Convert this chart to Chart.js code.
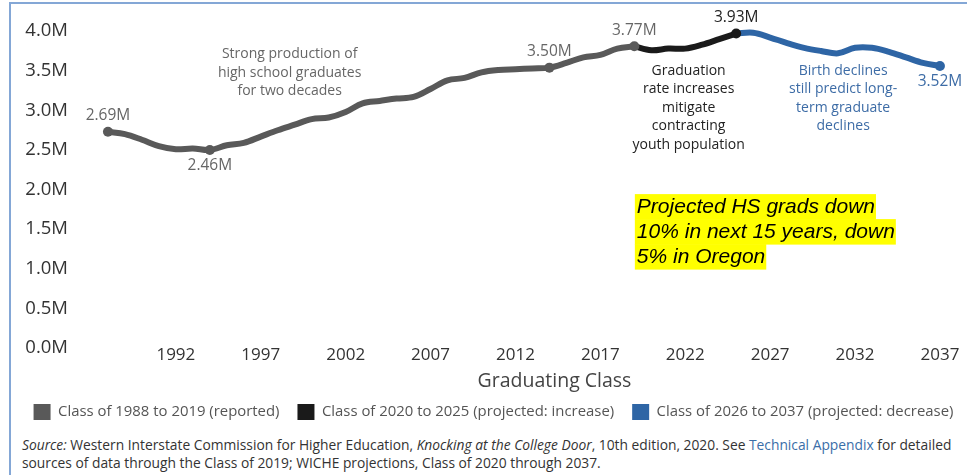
<!DOCTYPE html>
<html>
<head>
<meta charset="utf-8">
<title>Projected high school graduates</title>
<script src="https://cdn.jsdelivr.net/npm/chart.js@4.4.1/dist/chart.umd.min.js"></script>
<style>
  body { margin: 0; background: #fff; font-family: "Open Sans", sans-serif; }
  #wrap { position: relative; width: 967px; height: 475px; overflow: hidden; }
  #frame { position: absolute; left: 9px; top: 2px; width: 1000px; height: 500px; border-left: 2px solid #84a7d6; border-top: 2px solid #84a7d6; pointer-events: none; }
  #chartBox { position: absolute; left: 0; top: 0; width: 967px; height: 430px; }
  #source { position: absolute; left: 22px; top: 436px; width: 945px; font-size: 13.8px; line-height: 18px; color: #333; }
  #source .link { color: #3a6ea8; }
</style>
</head>
<body>
<div id="wrap">
  <div id="frame"></div>
  <div id="chartBox"><canvas id="gradsChart"></canvas></div>
  <div id="source"><i>Source:</i> Western Interstate Commission for Higher Education, <i>Knocking at the College Door</i>, 10th edition, 2020. See <span class="link">Technical Appendix</span> for detailed sources of data through the Class of 2019; WICHE projections, Class of 2020 through 2037.</div>
</div>
<script>
// graduates in millions, by graduating class
const reportedYears = [1988, 1989, 1990, 1991, 1992, 1993, 1994, 1995, 1996, 1997, 1998, 1999, 2000, 2001, 2002, 2003,
  2004, 2005, 2006, 2007, 2008, 2009, 2010, 2011, 2012, 2013, 2014, 2015, 2016, 2017, 2018, 2019];
const reportedGrads = [2.69, 2.66, 2.59, 2.51, 2.47, 2.48, 2.46, 2.52, 2.55, 2.63, 2.71, 2.78, 2.85, 2.87, 2.94, 3.05,
  3.08, 3.11, 3.13, 3.23, 3.34, 3.37, 3.44, 3.47, 3.48, 3.49, 3.50, 3.56, 3.63, 3.66, 3.74, 3.77];

const increaseYears = [2019, 2020, 2021, 2022, 2023, 2024, 2025];
const increaseGrads = [3.77, 3.72, 3.74, 3.74, 3.79, 3.86, 3.93];

const decreaseYears = [2025, 2026, 2027, 2028, 2029, 2030, 2031, 2032, 2033, 2034, 2035, 2036, 2037];
const decreaseGrads = [3.93, 3.94, 3.88, 3.81, 3.75, 3.71, 3.68, 3.75, 3.75, 3.70, 3.63, 3.56, 3.52];

const seriesNames = ['Class of 1988 to 2019 (reported)', 'Class of 2020 to 2025 (projected: increase)', 'Class of 2026 to 2037 (projected: decrease)'];
const seriesColors = ['#595959', '#1a1a1a', '#2e65a5'];
const labelColors = ['#666666', '#222222', '#3d6ca6'];

const xTickYears = [1992, 1997, 2002, 2007, 2012, 2017, 2022, 2027, 2032, 2037];
const yTickValues = [0, 0.5, 1, 1.5, 2, 2.5, 3, 3.5, 4];

// points that get a value label: [year, series index, above(-1) / below(+1)]
const labeledPoints = [[1988, 0, -1], [1994, 0, 1], [2014, 0, -1], [2019, 0, -1], [2025, 1, -1], [2037, 2, 1]];

const notes = [
  { lines: ['Strong production of', 'high school graduates', 'for two decades'], year: 1998.7, value: 3.67, color: '#666666' },
  { lines: ['Graduation', 'rate increases', 'mitigate', 'contracting', 'youth population'], year: 2022.2, value: 3.46, color: '#222222' },
  { lines: ['Birth declines', 'still predict long-', 'term graduate', 'declines'], year: 2031.3, value: 3.46, color: '#3d6ca6' }
];
const callout = ['Projected HS grads down', '10% in next 15 years, down', '5% in Oregon'];

const pairs = (xs, ys) => xs.map((x, i) => ({ x: x, y: ys[i] }));
const series = [pairs(reportedYears, reportedGrads), pairs(increaseYears, increaseGrads), pairs(decreaseYears, decreaseGrads)];
const isLabeled = (year, s) => labeledPoints.some(p => p[0] === year && p[1] === s);

const FONT = '"Open Sans", sans-serif';

const notesPlugin = {
  id: 'notes',
  afterLayout(chart) {
    // nudge the legend row a little to the right
    chart.legend.left += 10;
    chart.legend.right += 10;
  },
  afterDatasetsDraw(chart) {
    const { ctx, scales: { x, y } } = chart;
    ctx.save();
    ctx.textAlign = 'center';
    ctx.textBaseline = 'middle';

    // value labels
    ctx.font = '15.5px ' + FONT;
    labeledPoints.forEach(([year, s, side]) => {
      const pt = series[s].find(p => p.x === year);
      const px = x.getPixelForValue(year);
      const py = y.getPixelForValue(pt.y);
      ctx.fillStyle = labelColors[s];
      ctx.fillText(pt.y.toFixed(2) + 'M', px, py + side * 16);
    });

    // text notes
    ctx.font = '14px ' + FONT;
    notes.forEach(n => {
      ctx.fillStyle = n.color;
      const top = y.getPixelForValue(n.value);
      n.lines.forEach((line, i) => ctx.fillText(line, x.getPixelForValue(n.year), top + i * 18.5));
    });

    // highlighted callout
    ctx.textAlign = 'left';
    ctx.font = 'italic 21px "Liberation Sans", Arial, sans-serif';
    const left = x.getPixelForValue(2019.15);
    const top = y.getPixelForValue(1.74);
    callout.forEach((line, i) => {
      const w = ctx.measureText(line).width;
      ctx.fillStyle = '#ffff00';
      ctx.fillRect(left - 2, top + i * 25 - 13, w + 3, 25.5);
      ctx.fillStyle = '#000';
      ctx.fillText(line, left, top + i * 25);
    });

    // axis title
    ctx.textAlign = 'center';
    ctx.font = '19.5px ' + FONT;
    ctx.fillStyle = '#444';
    ctx.fillText('Graduating Class', x.getPixelForValue(2014.3), x.top + 36);
    ctx.restore();
  }
};

const datasets = series.map((data, s) => ({
  label: seriesNames[s],
  data: data,
  borderColor: seriesColors[s],
  backgroundColor: seriesColors[s],
  borderWidth: 6,
  borderCapStyle: 'round',
  tension: 0.35,
  clip: false,
  order: s,
  pointRadius: ctx => isLabeled(ctx.raw.x, s) ? 5 : 0,
  pointHoverRadius: 5,
  pointBorderWidth: 0
}));

new Chart(document.getElementById('gradsChart'), {
  type: 'line',
  data: { datasets: datasets },
  options: {
    responsive: true,
    maintainAspectRatio: false,
    animation: false,
    layout: { padding: { left: 0, right: 0, top: 28, bottom: 0 } },
    scales: {
      x: {
        type: 'linear',
        min: 1986,
        max: 2038.3,
        afterBuildTicks: axis => { axis.ticks = xTickYears.map(v => ({ value: v })); },
        afterFit: axis => { axis.height = 41; },
        grid: { display: false, drawTicks: false },
        border: { display: false },
        ticks: { padding: 0, color: '#333', font: { family: FONT, size: 17 }, maxRotation: 0, callback: v => String(v) }
      },
      y: {
        min: 0,
        max: 4,
        afterBuildTicks: axis => { axis.ticks = yTickValues.map(v => ({ value: v })); },
        afterFit: axis => { axis.width = 74; },
        grid: { display: false, drawTicks: false },
        border: { display: false },
        ticks: { padding: 6, labelOffset: 3, color: '#333', font: { family: FONT, size: 18.5 }, callback: v => v.toFixed(1) + 'M' }
      }
    },
    plugins: {
      tooltip: { enabled: false },
      legend: {
        position: 'bottom',
        labels: {
          boxWidth: 17,
          boxHeight: 16,
          padding: 18,
          color: '#555',
          font: { family: FONT, size: 14.9 },
          generateLabels: chart => chart.data.datasets.map((ds, i) => ({
            text: ds.label,
            fillStyle: ds.borderColor,
            strokeStyle: ds.borderColor,
            lineWidth: 0,
            hidden: false,
            datasetIndex: i,
            fontColor: '#555'
          }))
        }
      }
    }
  },
  plugins: [notesPlugin]
});
</script>
</body>
</html>
